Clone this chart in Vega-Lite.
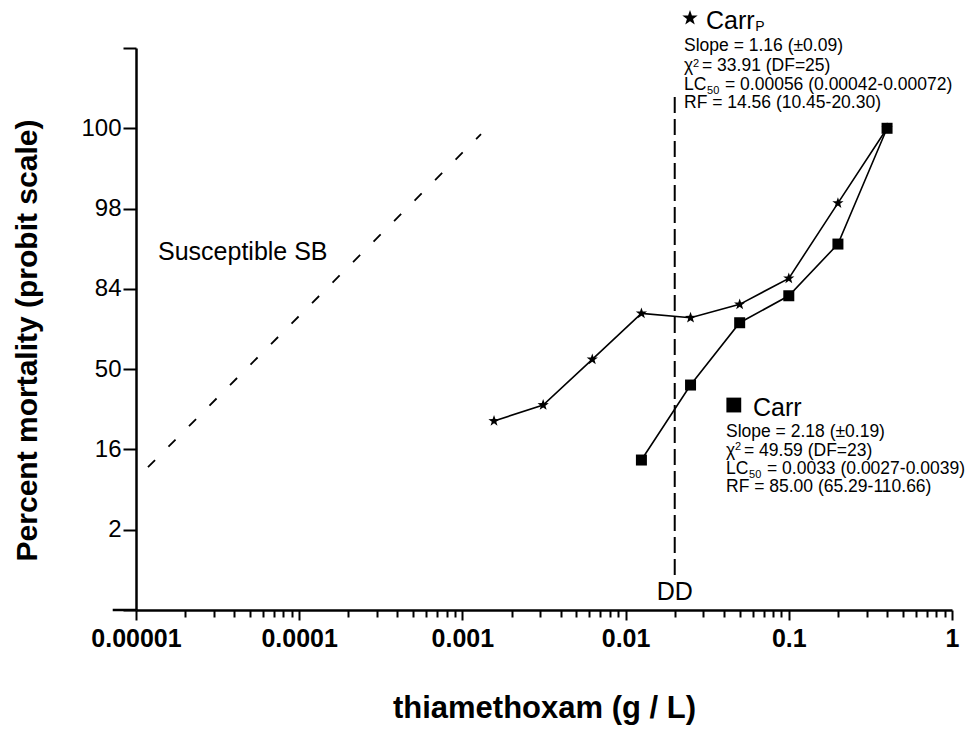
{
  "$schema": "https://vega.github.io/schema/vega-lite/v6.json",
  "width": 816,
  "height": 562,
  "autosize": {"type": "none"},
  "padding": {"left": 136, "top": 48, "right": 28, "bottom": 119},
  "background": "white",
  "config": {
    "view": {"stroke": null},
    "font": "Liberation Sans",
    "text": {"font": "Liberation Sans", "color": "black"}
  },
  "datasets": {
    "carrP": [
      {"dose": 0.0015625, "probit": -0.646},
      {"dose": 0.003125, "probit": -0.447},
      {"dose": 0.00625, "probit": 0.122},
      {"dose": 0.0125, "probit": 0.695},
      {"dose": 0.025, "probit": 0.64},
      {"dose": 0.05, "probit": 0.807},
      {"dose": 0.1, "probit": 1.131},
      {"dose": 0.2, "probit": 2.068},
      {"dose": 0.4, "probit": 3.0}
    ],
    "carr": [
      {"dose": 0.0125, "probit": -1.132},
      {"dose": 0.025, "probit": -0.198},
      {"dose": 0.05, "probit": 0.578},
      {"dose": 0.1, "probit": 0.914},
      {"dose": 0.2, "probit": 1.558},
      {"dose": 0.4, "probit": 3.0}
    ],
    "susceptible": [
      {"dose": 0.00001184, "probit": -1.22},
      {"dose": 0.0013, "probit": 2.927}
    ],
    "ddLine": [
      {"dose": 0.02, "probit": 3.389, "probit_end": -2.564}
    ],
    "axisStub": [
      {"dose": 0.0000072, "dose_end": 0.00001, "probit": -3}
    ],
    "keys": [
      {"dose": 0.02481, "probit": 4.373, "series": "Carr_P"},
      {"dose": 0.04603, "probit": -0.447, "series": "Carr"}
    ],
    "headings": [
      {"dose": 0.0311, "probit": 4.236, "label": "Carr"},
      {"dose": 0.06034, "probit": -0.584, "label": "Carr"},
      {"dose": 0.00001364, "probit": 1.359, "label": "Susceptible SB"}
    ],
    "ddLabel": [
      {"dose": 0.02, "probit": -2.876, "label": "DD"}
    ],
    "stats": [
      {"dose": 0.0228, "probit": 3.962, "label": "Slope = 1.16 (±0.09)"},
      {"dose": 0.0228, "probit": 3.713, "label": "χ"},
      {"dose": 0.02938, "probit": 3.713, "label": "= 33.91 (DF=25)"},
      {"dose": 0.0228, "probit": 3.476, "label": "LC"},
      {"dose": 0.04066, "probit": 3.476, "label": "= 0.00056 (0.00042-0.00072)"},
      {"dose": 0.0228, "probit": 3.252, "label": "RF = 14.56 (10.45-20.30)"},
      {"dose": 0.04123, "probit": -0.842, "label": "Slope = 2.18 (±0.19)"},
      {"dose": 0.04123, "probit": -1.082, "label": "χ"},
      {"dose": 0.05313, "probit": -1.082, "label": "= 49.59 (DF=23)"},
      {"dose": 0.04123, "probit": -1.31, "label": "LC"},
      {"dose": 0.07351, "probit": -1.31, "label": "= 0.0033 (0.0027-0.0039)"},
      {"dose": 0.04123, "probit": -1.527, "label": "RF = 85.00 (65.29-110.66)"}
    ],
    "subscriptP": [
      {"dose": 0.0624, "probit": 4.211, "label": "P"}
    ],
    "scripts": [
      {"dose": 0.02588, "probit": 3.765, "label": "2"},
      {"dose": 0.03154, "probit": 3.43, "label": "50"},
      {"dose": 0.04681, "probit": -1.01, "label": "2"},
      {"dose": 0.05704, "probit": -1.357, "label": "50"}
    ]
  },
  "encoding": {
    "y": {
      "field": "probit",
      "type": "quantitative",
      "scale": {"domain": [-3, 4], "nice": false, "zero": false},
      "axis": {
        "orient": "left",
        "title": "Percent mortality (probit scale)",
        "titleFont": "Liberation Sans",
        "titleFontSize": 30,
        "titleFontWeight": "bold",
        "titleColor": "black",
        "titleX": -100,
        "titleY": 292,
        "titleAngle": -90,
        "titleBaseline": "alphabetic",
        "values": [-3, -2, -1, 0, 1, 2, 3, 4],
        "labelExpr": "datum.value == 3 ? '100' : datum.value == 2 ? '98' : datum.value == 1 ? '84' : datum.value == 0 ? '50' : datum.value == -1 ? '16' : datum.value == -2 ? '2' : ''",
        "labelFont": "Liberation Sans",
        "labelFontSize": 24,
        "labelColor": "black",
        "labelPadding": 2,
        "labelOverlap": false,
        "labelFlush": false,
        "domainColor": "black",
        "domainWidth": 2.5,
        "tickColor": "black",
        "tickWidth": 2,
        "tickSize": 13,
        "grid": false
      }
    }
  },
  "layer": [
    {
      "encoding": {
        "x": {
          "field": "dose",
          "type": "quantitative",
          "scale": {"type": "log", "domain": [0.00001, 1]},
          "axis": {
            "orient": "bottom",
            "title": "thiamethoxam (g / L)",
            "titleFont": "Liberation Sans",
            "titleFontSize": 31,
            "titleFontWeight": "bold",
            "titleColor": "black",
            "titleY": 107,
            "titleBaseline": "alphabetic",
            "values": [0.00001, 0.0001, 0.001, 0.01, 0.1, 1],
            "labelExpr": "format(datum.value, '.5~f')",
            "labelFont": "Liberation Sans",
            "labelFontSize": 25,
            "labelFontWeight": "bold",
            "labelColor": "black",
            "labelPadding": 6,
            "labelFlush": false,
            "labelOverlap": false,
            "domainColor": "black",
            "domainWidth": 2.5,
            "tickColor": "black",
            "tickWidth": 2,
            "tickSize": 10,
            "grid": false
          }
        }
      },
      "layer": [
        {
          "data": {"name": "axisStub"},
          "mark": {"type": "rule", "color": "black", "strokeWidth": 2.5},
          "encoding": {"x2": {"field": "dose_end"}}
        },
        {
          "data": {"name": "ddLine"},
          "mark": {"type": "rule", "color": "black", "strokeWidth": 2, "strokeDash": [16, 6]},
          "encoding": {"y2": {"field": "probit_end"}}
        },
        {
          "data": {"name": "carrP"},
          "mark": {"type": "line", "color": "black", "strokeWidth": 1.6}
        },
        {
          "data": {"name": "carrP"},
          "mark": {"type": "point", "shape": "M0,-1L0.235,-0.324L0.951,-0.309L0.38,0.124L0.588,0.809L0,0.4L-0.588,0.809L-0.38,0.124L-0.951,-0.309L-0.235,-0.324Z", "filled": true, "color": "black", "opacity": 1, "size": 140}
        },
        {
          "data": {"name": "carr"},
          "mark": {"type": "line", "color": "black", "strokeWidth": 1.6}
        },
        {
          "data": {"name": "carr"},
          "mark": {"type": "point", "shape": "square", "filled": true, "color": "black", "opacity": 1, "size": 121}
        },
        {
          "data": {"name": "keys"},
          "transform": [{"filter": "datum.series == 'Carr_P'"}],
          "mark": {"type": "point", "shape": "M0,-1L0.235,-0.324L0.951,-0.309L0.38,0.124L0.588,0.809L0,0.4L-0.588,0.809L-0.38,0.124L-0.951,-0.309L-0.235,-0.324Z", "filled": true, "color": "black", "opacity": 1, "size": 260}
        },
        {
          "data": {"name": "keys"},
          "transform": [{"filter": "datum.series == 'Carr'"}],
          "mark": {"type": "point", "shape": "square", "filled": true, "color": "black", "opacity": 1, "size": 220}
        },
        {
          "data": {"name": "headings"},
          "mark": {"type": "text", "align": "left", "baseline": "alphabetic", "fontSize": 25, "color": "black"},
          "encoding": {"text": {"field": "label"}}
        },
        {
          "data": {"name": "ddLabel"},
          "mark": {"type": "text", "align": "center", "baseline": "alphabetic", "fontSize": 25, "color": "black"},
          "encoding": {"text": {"field": "label"}}
        },
        {
          "data": {"name": "stats"},
          "mark": {"type": "text", "align": "left", "baseline": "alphabetic", "fontSize": 17.5, "color": "black"},
          "encoding": {"text": {"field": "label"}}
        },
        {
          "data": {"name": "subscriptP"},
          "mark": {"type": "text", "align": "left", "baseline": "alphabetic", "fontSize": 14, "color": "black"},
          "encoding": {"text": {"field": "label"}}
        },
        {
          "data": {"name": "scripts"},
          "mark": {"type": "text", "align": "left", "baseline": "alphabetic", "fontSize": 11, "color": "black"},
          "encoding": {"text": {"field": "label"}}
        }
      ]
    },
    {
      "data": {"name": "susceptible"},
      "mark": {"type": "line", "color": "black", "strokeWidth": 1.8, "strokeDash": [10, 19]},
      "encoding": {
        "x": {
          "field": "dose",
          "type": "quantitative",
          "scale": {"type": "log", "domain": [0.00001, 1]},
          "axis": {
            "orient": "bottom",
            "title": null,
            "values": [0.00002, 0.00003, 0.00004, 0.00005, 0.00006, 0.00007, 0.00008, 0.00009,
                       0.0002, 0.0003, 0.0004, 0.0005, 0.0006, 0.0007, 0.0008, 0.0009,
                       0.002, 0.003, 0.004, 0.005, 0.006, 0.007, 0.008, 0.009,
                       0.02, 0.03, 0.04, 0.05, 0.06, 0.07, 0.08, 0.09,
                       0.2, 0.3, 0.4, 0.5, 0.6, 0.7, 0.8, 0.9],
            "labels": false,
            "domain": false,
            "grid": false,
            "tickColor": "black",
            "tickWidth": 2,
            "tickSize": 7
          }
        }
      }
    }
  ],
  "resolve": {"scale": {"x": "independent"}, "axis": {"x": "independent"}}
}
